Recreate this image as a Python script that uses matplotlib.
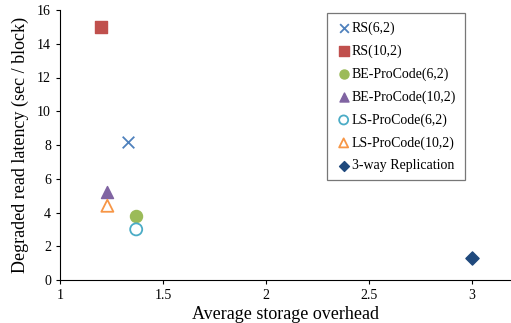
import matplotlib
matplotlib.use("Agg")
import matplotlib.pyplot as plt

plt.rcParams['font.family'] = ['Liberation Serif', 'DejaVu Serif']

labels = ["RS(6,2)", "RS(10,2)", "BE-ProCode(6,2)", "BE-ProCode(10,2)",
          "LS-ProCode(6,2)", "LS-ProCode(10,2)", "3-way Replication"]
overhead = [1.33, 1.20, 1.37, 1.23, 1.37, 1.23, 3.0]
latency = [8.2, 15.0, 3.8, 5.2, 3.0, 4.4, 1.3]

styles = [
    dict(marker="x", color="#4F81BD", s=70, linewidths=1.3),
    dict(marker="s", color="#C0504D", s=75),
    dict(marker="o", color="#9BBB59", s=75),
    dict(marker="^", color="#8064A2", s=75),
    dict(marker="o", facecolors="none", edgecolors="#4BACC6", s=75, linewidths=1.3),
    dict(marker="^", facecolors="none", edgecolors="#F79646", s=75, linewidths=1.3),
    dict(marker="D", color="#1F497D", s=45),
]

fig = plt.figure(figsize=(5.11, 3.23), dpi=100)
ax = fig.add_axes([60 / 511, 43 / 323, 451 / 511, 270 / 323])

for x, y, lab, st in zip(overhead, latency, labels, styles):
    ax.scatter([x], [y], label=lab, zorder=3, **st)

ax.set_xlim(1, 3.19)
ax.set_ylim(0, 16)
ax.set_xticks([1, 1.5, 2, 2.5, 3])
ax.set_xticklabels(["1", "1.5", "2", "2.5", "3"])
ax.set_yticks(range(0, 17, 2))
ax.tick_params(axis="both", labelsize=10, length=3, width=0.8, direction="out")
for side in ("top", "right"):
    ax.spines[side].set_visible(False)
for side in ("left", "bottom"):
    ax.spines[side].set_linewidth(0.8)

ax.set_xlabel("Average storage overhead", fontsize=13, labelpad=3)
ax.set_ylabel("Degraded read latency (sec / block)", fontsize=13, labelpad=6)

leg = ax.legend(loc="upper left", bbox_to_anchor=(267 / 451, 0.988), borderaxespad=0,
                fontsize=10, frameon=True, fancybox=False, edgecolor="#555555",
                handletextpad=0.0, handlelength=1.2, labelspacing=0.68,
                borderpad=0.6, markerscale=0.75, scatterpoints=1)
leg.get_frame().set_linewidth(0.9)

fig.savefig("out.png", dpi=100)
